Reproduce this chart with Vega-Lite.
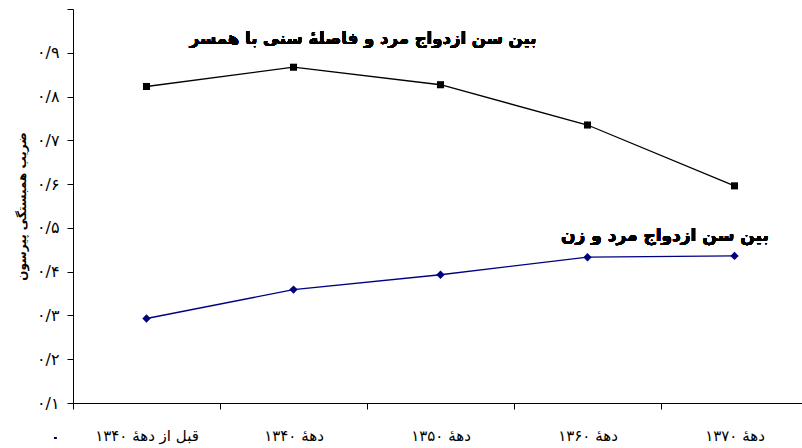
{
  "$schema": "https://vega.github.io/schema/vega-lite/v6.json",
  "width": 735,
  "height": 394,
  "autosize": {"type": "none"},
  "padding": {"left": 73, "top": 9, "right": 0, "bottom": 45},
  "background": "white",
  "config": {"view": {"stroke": null}, "font": "DejaVu Sans"},
  "data": {
    "values": [
      {"i": 0, "period": "قبل از دهۀ ۱۳۴۰", "series": "بین سن ازدواج مرد و فاصلۀ سنی با همسر", "value": 0.823},
      {"i": 1, "period": "دهۀ ۱۳۴۰", "series": "بین سن ازدواج مرد و فاصلۀ سنی با همسر", "value": 0.867},
      {"i": 2, "period": "دهۀ ۱۳۵۰", "series": "بین سن ازدواج مرد و فاصلۀ سنی با همسر", "value": 0.827},
      {"i": 3, "period": "دهۀ ۱۳۶۰", "series": "بین سن ازدواج مرد و فاصلۀ سنی با همسر", "value": 0.735},
      {"i": 4, "period": "دهۀ ۱۳۷۰", "series": "بین سن ازدواج مرد و فاصلۀ سنی با همسر", "value": 0.596},
      {"i": 0, "period": "قبل از دهۀ ۱۳۴۰", "series": "بین سن ازدواج مرد و زن", "value": 0.293},
      {"i": 1, "period": "دهۀ ۱۳۴۰", "series": "بین سن ازدواج مرد و زن", "value": 0.359},
      {"i": 2, "period": "دهۀ ۱۳۵۰", "series": "بین سن ازدواج مرد و زن", "value": 0.393},
      {"i": 3, "period": "دهۀ ۱۳۶۰", "series": "بین سن ازدواج مرد و زن", "value": 0.433},
      {"i": 4, "period": "دهۀ ۱۳۷۰", "series": "بین سن ازدواج مرد و زن", "value": 0.436}
    ]
  },
  "encoding": {
    "x": {
      "field": "i",
      "type": "quantitative",
      "scale": {"domain": [-0.5, 4.5], "nice": false, "zero": false},
      "axis": {
        "title": null,
        "grid": false,
        "values": [-0.5, 0.5, 1.5, 2.5, 3.5, 4.5],
        "labelExpr": "datum.value > 4 ? '' : ['قبل از دهۀ ۱۳۴۰','دهۀ ۱۳۴۰','دهۀ ۱۳۵۰','دهۀ ۱۳۶۰','دهۀ ۱۳۷۰'][round(datum.value + 0.5)]",
        "labelOffset": 73.5,
        "labelFlush": false,
        "labelOverlap": false,
        "labelFontSize": 15,
        "labelColor": "black",
        "labelPadding": 19,
        "tickSize": 6,
        "tickColor": "black",
        "domainColor": "black"
      }
    },
    "y": {
      "field": "value",
      "type": "quantitative",
      "scale": {"domain": [0.1, 1.0], "nice": false, "zero": false},
      "axis": {
        "title": "ضریب همبستگی پیرسون",
        "titleFontSize": 12,
        "titleFontWeight": "bold",
        "titleColor": "black",
        "titlePadding": 8,
        "grid": false,
        "values": [0.1, 0.2, 0.3, 0.4, 0.5, 0.6, 0.7, 0.8, 0.9, 1.0],
        "labelExpr": "round(datum.value * 10) >= 10 ? '' : '۰/' + ['','۱','۲','۳','۴','۵','۶','۷','۸','۹'][round(datum.value * 10)]",
        "labelFontSize": 16,
        "labelColor": "black",
        "labelPadding": 8,
        "tickSize": 6,
        "tickColor": "black",
        "domainColor": "black"
      }
    }
  },
  "layer": [
    {
      "mark": {"type": "line", "strokeWidth": 1.3},
      "encoding": {
        "color": {
          "field": "series",
          "type": "nominal",
          "scale": {"domain": ["بین سن ازدواج مرد و فاصلۀ سنی با همسر", "بین سن ازدواج مرد و زن"], "range": ["#000000", "#000080"]},
          "legend": null
        }
      }
    },
    {
      "mark": {"type": "point", "filled": true, "opacity": 1},
      "encoding": {
        "color": {
          "field": "series",
          "type": "nominal",
          "scale": {"domain": ["بین سن ازدواج مرد و فاصلۀ سنی با همسر", "بین سن ازدواج مرد و زن"], "range": ["#000000", "#000080"]},
          "legend": null
        },
        "shape": {
          "field": "series",
          "type": "nominal",
          "scale": {"domain": ["بین سن ازدواج مرد و فاصلۀ سنی با همسر", "بین سن ازدواج مرد و زن"], "range": ["square", "diamond"]},
          "legend": null
        },
        "size": {
          "field": "series",
          "type": "nominal",
          "scale": {"domain": ["بین سن ازدواج مرد و فاصلۀ سنی با همسر", "بین سن ازدواج مرد و زن"], "range": [50, 70]},
          "legend": null
        }
      }
    },
    {
      "mark": {"type": "text", "fontSize": 16, "color": "black", "clip": false, "baseline": "middle", "align": "center"},
      "encoding": {
        "x": {"datum": -0.62},
        "y": {"datum": 0.02},
        "text": {"value": "۰"}
      }
    },
    {
      "mark": {"type": "text", "fontSize": 16.5, "fontWeight": "bold", "color": "black", "baseline": "alphabetic", "align": "center"},
      "encoding": {
        "x": {"datum": 1.473},
        "y": {"datum": 0.921},
        "text": {"value": "بین سن ازدواج مرد و فاصلۀ سنی با همسر"}
      }
    },
    {
      "mark": {"type": "text", "fontSize": 17, "fontWeight": "bold", "color": "black", "baseline": "alphabetic", "align": "center"},
      "encoding": {
        "x": {"datum": 3.527},
        "y": {"datum": 0.47},
        "text": {"value": "بین سن ازدواج مرد و زن"}
      }
    }
  ]
}
